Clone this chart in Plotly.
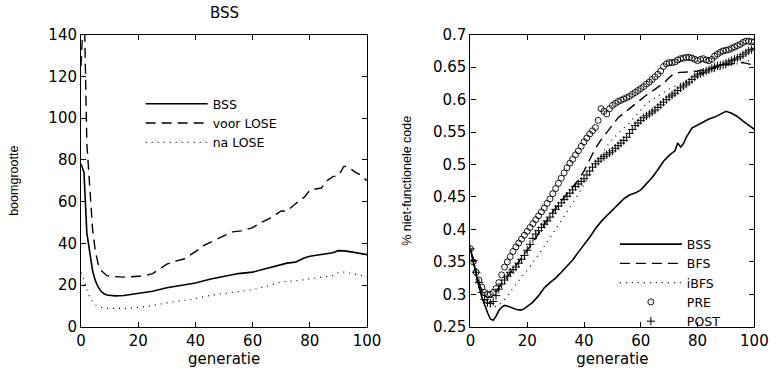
import plotly.graph_objects as go

# ---------------- left panel: tree size ----------------
gen_bss_l = [0, 1, 2, 3, 4, 5, 6, 7, 8, 9, 10, 12, 15, 20, 25, 30, 35, 40, 45, 50, 55, 60, 65,
             70, 72, 75, 78, 80, 85, 88, 90, 92, 95, 98, 100]
bss_l = [78, 74, 45, 35, 27, 22, 19, 17, 15.8, 15.2, 15, 14.8, 15, 15.9, 17, 18.7, 19.8, 21, 22.8,
         24, 25.5, 26.2, 28, 30, 30.5, 31, 33, 33.8, 35, 35.5, 36.5, 36.4, 35.8, 35, 34.6]

gen_voor = [0, 1, 2, 3, 4, 5, 6, 7, 8, 9, 10, 12, 15, 20, 22, 25, 28, 30, 33, 36, 40, 43, 46, 50,
            53, 56, 60, 63, 66, 70, 72, 75, 78, 80, 82, 84, 86, 88, 90, 92, 94, 96, 98, 100]
voor = [125, 160, 88, 65, 47, 36, 30, 27, 25.5, 24.5, 24.2, 24, 23.8, 24.2, 24.4, 25.5, 28, 30,
        31.5, 32.5, 36, 39, 41, 43.5, 45.5, 46, 47.5, 50, 52, 55.5, 55.5, 59, 62, 65.5, 66, 66.5,
        70, 72, 72.5, 77, 76, 74, 72.5, 70]

gen_na = [0, 1, 2, 3, 4, 5, 6, 8, 10, 15, 20, 25, 30, 35, 40, 45, 50, 55, 60, 65, 70, 75, 80,
          85, 88, 90, 92, 95, 98, 100]
na = [26, 22, 17.5, 14, 12, 10.5, 9.7, 9, 8.8, 8.8, 9.3, 10.2, 11.5, 12.5, 13.5, 15, 16, 17, 17.8,
      19.5, 21.5, 22, 23, 24, 24.5, 26, 26.2, 25.5, 24.5, 24]

# ---------------- right panel: % non-functional code ----------------
gen_bss_r = [0, 1, 2, 3, 4, 5, 6, 7, 8, 9, 10, 11, 12, 13, 14, 15, 16, 17, 18, 19, 20, 22, 24,
             26, 28, 30, 32, 34, 36, 38, 40, 42, 44, 46, 48, 50, 52, 54, 56, 58, 60, 62, 64, 66,
             68, 70, 72, 73, 74, 75, 76, 78, 80, 82, 84, 86, 88, 90, 92, 94, 96, 98, 100]
bss_r = [0.370, 0.350, 0.330, 0.312, 0.296, 0.283, 0.272, 0.262, 0.260, 0.266, 0.275, 0.280,
         0.283, 0.282, 0.280, 0.279, 0.277, 0.276, 0.276, 0.278, 0.281, 0.288, 0.298, 0.310,
         0.318, 0.325, 0.334, 0.343, 0.353, 0.365, 0.376, 0.388, 0.401, 0.412, 0.421, 0.430,
         0.438, 0.447, 0.453, 0.456, 0.461, 0.470, 0.480, 0.492, 0.505, 0.514, 0.521, 0.533,
         0.527, 0.532, 0.542, 0.556, 0.561, 0.565, 0.570, 0.573, 0.577, 0.582, 0.579, 0.574,
         0.567, 0.560, 0.554]

gen_bfs = [0, 1, 2, 3, 4, 5, 6, 7, 8, 10, 12, 14, 16, 18, 20, 22, 24, 26, 28, 30, 32, 34, 36, 38,
           40, 42, 44, 46, 48, 50, 52, 54, 56, 58, 60, 62, 64, 66, 68, 70, 72, 74, 76, 78, 80, 82,
           84, 86, 88, 90, 92, 94, 96, 98, 100]
bfs = [0.370, 0.350, 0.332, 0.318, 0.306, 0.298, 0.295, 0.295, 0.298, 0.310, 0.322, 0.333, 0.344,
       0.356, 0.367, 0.380, 0.394, 0.408, 0.421, 0.432, 0.444, 0.455, 0.465, 0.476, 0.490, 0.508,
       0.525, 0.538, 0.549, 0.561, 0.572, 0.579, 0.586, 0.594, 0.601, 0.607, 0.613, 0.619, 0.625,
       0.634, 0.641, 0.642, 0.642, 0.643, 0.644, 0.646, 0.648, 0.650, 0.652, 0.654, 0.655, 0.656,
       0.657, 0.655, 0.653]

gen_ibfs = [0, 2, 4, 6, 8, 10, 12, 14, 16, 18, 20, 22, 24, 26, 28, 30, 32, 34, 36, 38, 40, 42, 44,
            46, 48, 50, 52, 54, 56, 58, 60, 62, 64, 66, 68, 70, 72, 74, 76, 78, 80, 82, 84, 86, 88,
            90, 92, 94, 96, 98, 100]
ibfs = [0.370, 0.332, 0.302, 0.287, 0.280, 0.283, 0.292, 0.303, 0.315, 0.327, 0.337, 0.349, 0.361,
        0.374, 0.387, 0.400, 0.412, 0.425, 0.440, 0.455, 0.470, 0.484, 0.500, 0.515, 0.528, 0.539,
        0.548, 0.556, 0.564, 0.574, 0.584, 0.594, 0.600, 0.606, 0.611, 0.616, 0.621, 0.625, 0.629,
        0.633, 0.636, 0.639, 0.641, 0.644, 0.647, 0.650, 0.653, 0.656, 0.658, 0.660, 0.662]

gen_markers = list(range(0, 101))
pre = [0.370, 0.350, 0.334, 0.322, 0.311, 0.303, 0.300, 0.300, 0.303, 0.309,
       0.318, 0.330, 0.342, 0.350, 0.358, 0.366, 0.373, 0.379, 0.385, 0.391,
       0.397, 0.403, 0.409, 0.415, 0.421, 0.427, 0.433, 0.440, 0.447, 0.455,
       0.463, 0.471, 0.479, 0.487, 0.495, 0.502, 0.508, 0.515, 0.521, 0.528,
       0.535, 0.541, 0.547, 0.552, 0.557, 0.568, 0.586, 0.582, 0.578, 0.586,
       0.591, 0.594, 0.597, 0.599, 0.601, 0.603, 0.605, 0.608, 0.611, 0.614,
       0.617, 0.620, 0.624, 0.627, 0.631, 0.635, 0.639, 0.644, 0.651, 0.655,
       0.657, 0.657, 0.658, 0.661, 0.663, 0.664, 0.665, 0.665, 0.664, 0.662,
       0.660, 0.662, 0.663, 0.661, 0.660, 0.662, 0.667, 0.670, 0.673, 0.675,
       0.676, 0.677, 0.679, 0.681, 0.683, 0.685, 0.688, 0.690, 0.690, 0.689,
       0.689]
post = [0.370, 0.352, 0.334, 0.318, 0.303, 0.292, 0.287, 0.286, 0.289, 0.298,
        0.308, 0.316, 0.322, 0.328, 0.334, 0.338, 0.342, 0.348, 0.354, 0.360,
        0.368, 0.377, 0.386, 0.393, 0.398, 0.403, 0.408, 0.413, 0.419, 0.425,
        0.431, 0.436, 0.441, 0.446, 0.451, 0.456, 0.461, 0.466, 0.470, 0.474,
        0.478, 0.484, 0.490, 0.496, 0.501, 0.505, 0.509, 0.512, 0.515, 0.518,
        0.521, 0.525, 0.529, 0.533, 0.537, 0.542, 0.548, 0.554, 0.560, 0.564,
        0.568, 0.572, 0.575, 0.578, 0.581, 0.584, 0.588, 0.592, 0.596, 0.600,
        0.604, 0.607, 0.610, 0.614, 0.618, 0.621, 0.624, 0.627, 0.631, 0.635,
        0.638, 0.640, 0.642, 0.644, 0.646, 0.648, 0.650, 0.652, 0.653, 0.654,
        0.656, 0.658, 0.660, 0.662, 0.664, 0.666, 0.669, 0.672, 0.675, 0.677,
        0.679]

xticks = [0, 20, 40, 60, 80, 100]
yticks_l = [0, 20, 40, 60, 80, 100, 120, 140]
yticks_r = [0.25, 0.3, 0.35, 0.4, 0.45, 0.5, 0.55, 0.6, 0.65, 0.7]
yticktext_r = ["0.25", "0.3", "0.35", "0.4", "0.45", "0.5", "0.55", "0.6", "0.65", "0.7"]

W, H = 784, 371
TICKFONT = dict(family="DejaVu Sans", size=15, color="black")
LABFONT = dict(family="Liberation Sans", size=12.5, color="black")
XLABFONT = dict(family="DejaVu Sans", size=15, color="black")
LEGFONT = dict(family="DejaVu Sans", size=12.5, color="black")

fig = go.Figure()

solid = dict(color="black", width=1.6)
dashed = dict(color="black", width=1.4, dash="10px,6px")
dotted = dict(color="black", width=1.2, dash="1px,5px")

fig.add_trace(go.Scatter(x=gen_bss_l, y=bss_l, mode="lines", line=solid, name="BSS",
                         xaxis="x", yaxis="y", legend="legend"))
fig.add_trace(go.Scatter(x=gen_voor, y=voor, mode="lines", line=dashed, name="voor LOSE",
                         xaxis="x", yaxis="y", legend="legend"))
fig.add_trace(go.Scatter(x=gen_na, y=na, mode="lines", line=dotted, name="na LOSE",
                         xaxis="x", yaxis="y", legend="legend"))

fig.add_trace(go.Scatter(x=gen_bss_r, y=bss_r, mode="lines", line=solid, name="BSS",
                         xaxis="x2", yaxis="y2", legend="legend2"))
fig.add_trace(go.Scatter(x=gen_bfs, y=bfs, mode="lines", line=dashed, name="BFS",
                         xaxis="x2", yaxis="y2", legend="legend2"))
fig.add_trace(go.Scatter(x=gen_ibfs, y=ibfs, mode="lines", line=dotted, name="iBFS",
                         xaxis="x2", yaxis="y2", legend="legend2"))
fig.add_trace(go.Scatter(x=gen_markers, y=pre, mode="markers", name="PRE",
                         marker=dict(symbol="circle-open", size=6, color="black",
                                     line=dict(width=0.9, color="black")),
                         xaxis="x2", yaxis="y2", legend="legend2"))
fig.add_trace(go.Scatter(x=gen_markers, y=post, mode="markers", name="POST",
                         marker=dict(symbol="cross-thin-open", size=6, color="black",
                                     line=dict(width=1, color="black")),
                         xaxis="x2", yaxis="y2", legend="legend2"))

ydom = [1 - 334 / H, 1 - 27 / H]
axis_common = dict(showline=True, linecolor="black", linewidth=1.2, mirror="allticks",
                   ticks="inside", ticklen=5, tickcolor="black", tickwidth=1,
                   showgrid=False, zeroline=False, tickfont=TICKFONT)

fig.update_layout(
    width=W, height=H,
    margin=dict(l=0, r=0, t=0, b=0),
    paper_bgcolor="white", plot_bgcolor="white",
    title=dict(text="BSS", x=224.5 / W, xanchor="center", y=1 - 13 / H, yanchor="middle",
               font=dict(family="DejaVu Sans", size=15, color="black")),
    xaxis=dict(domain=[78 / W, 371 / W], range=[0, 100], tickvals=xticks, anchor="y",
               title=dict(text="generatie", font=XLABFONT, standoff=2),
               **axis_common),
    yaxis=dict(domain=ydom, range=[0, 140], tickvals=yticks_l, anchor="x",
               title=dict(text="boomgrootte", font=LABFONT, standoff=26),
               **axis_common),
    xaxis2=dict(domain=[477 / W, 768 / W], range=[0, 100], tickvals=xticks, anchor="y2",
                title=dict(text="generatie", font=XLABFONT, standoff=2),
                **axis_common),
    yaxis2=dict(domain=ydom, range=[0.25, 0.7], tickvals=yticks_r, ticktext=yticktext_r,
                anchor="x2", title=dict(text="% niet-functionele code", font=LABFONT, standoff=18),
                **axis_common),
    legend=dict(x=139 / W, xanchor="left", y=1 - 120 / H, yanchor="middle",
                bgcolor="rgba(0,0,0,0)", borderwidth=0, itemwidth=62,
                font=LEGFONT, traceorder="normal"),
    legend2=dict(x=625 / W, xanchor="left", y=1 - 288 / H, yanchor="middle",
                 bgcolor="rgba(0,0,0,0)", borderwidth=0, itemwidth=62,
                 font=LEGFONT, traceorder="normal"),
    showlegend=True,
)

fig.write_html("out.html")
